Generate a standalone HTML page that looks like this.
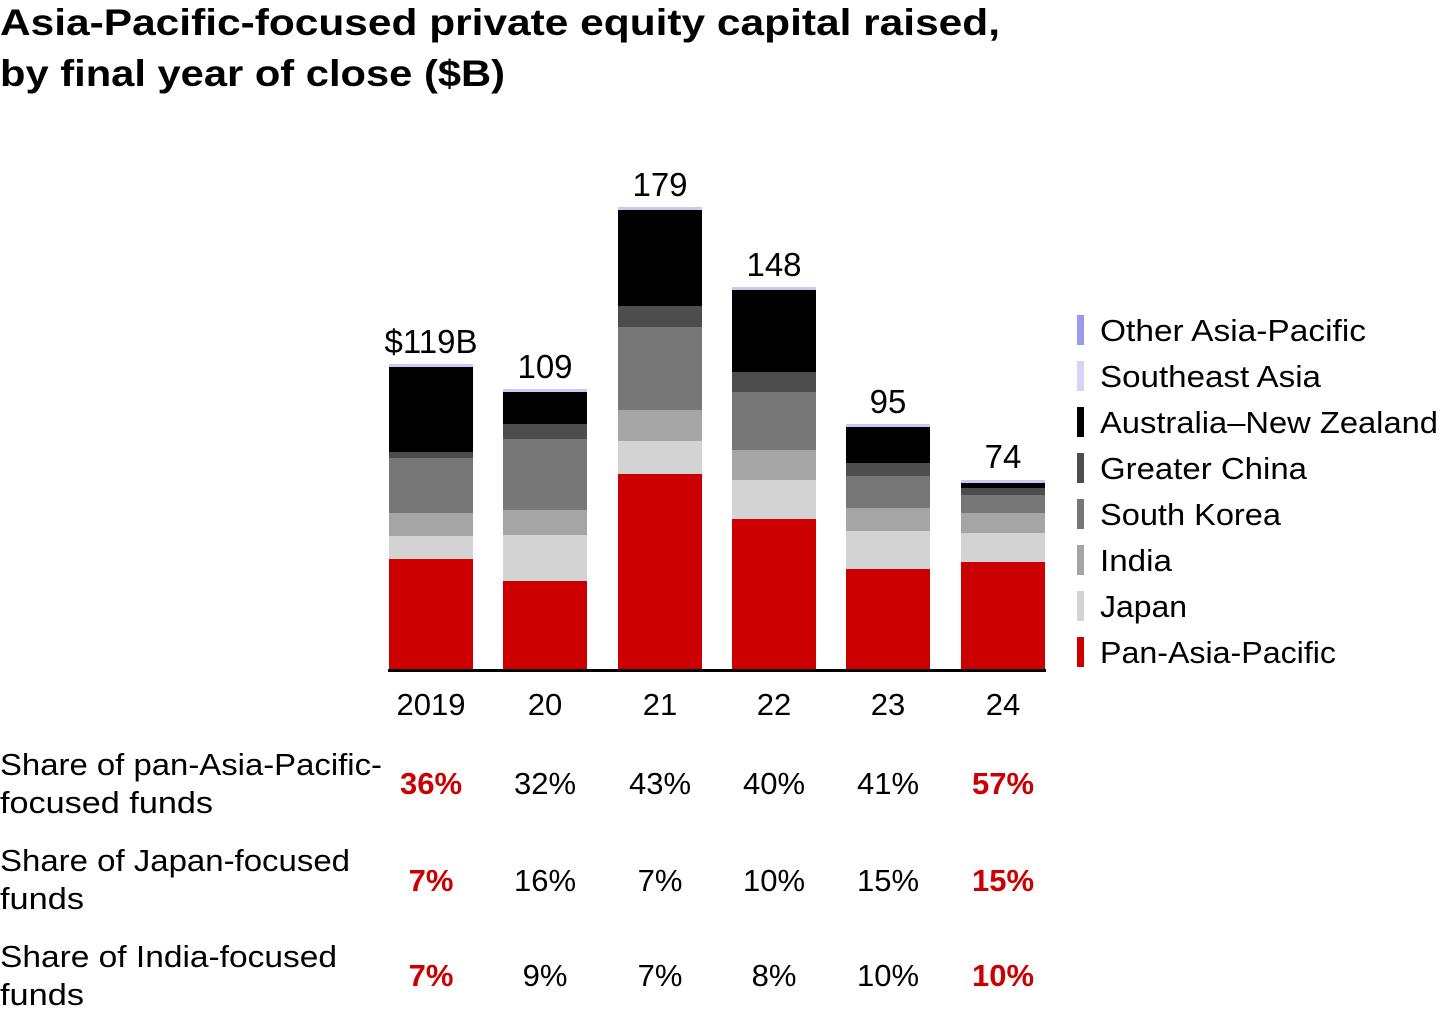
<!DOCTYPE html>
<html><head><meta charset="utf-8"><style>
body{margin:0;background:#fff;width:1440px;height:1013px;overflow:hidden;font-family:"Liberation Sans",sans-serif;}
</style></head><body>
<svg width="1440" height="1013" xmlns="http://www.w3.org/2000/svg" font-family="Liberation Sans, sans-serif">
<text x="0" y="35" font-size="37" font-weight="bold" fill="#000" textLength="1000" lengthAdjust="spacingAndGlyphs">Asia-Pacific-focused private equity capital raised,</text>
<text x="0" y="86" font-size="37" font-weight="bold" fill="#000" textLength="505" lengthAdjust="spacingAndGlyphs">by final year of close ($B)</text>
<g>
<rect x="389" y="364" width="84" height="3" fill="#c9c9f5"/>
<rect x="389" y="367" width="84" height="85" fill="#000"/>
<rect x="389" y="452" width="84" height="6" fill="#4d4d4d"/>
<rect x="389" y="458" width="84" height="55" fill="#777"/>
<rect x="389" y="513" width="84" height="23" fill="#a5a5a5"/>
<rect x="389" y="536" width="84" height="23" fill="#d3d3d3"/>
<rect x="389" y="559" width="84" height="111" fill="#cc0000"/>
<rect x="503" y="389" width="84" height="3" fill="#c9c9f5"/>
<rect x="503" y="392" width="84" height="32" fill="#000"/>
<rect x="503" y="424" width="84" height="15" fill="#4d4d4d"/>
<rect x="503" y="439" width="84" height="71" fill="#777"/>
<rect x="503" y="510" width="84" height="25" fill="#a5a5a5"/>
<rect x="503" y="535" width="84" height="46" fill="#d3d3d3"/>
<rect x="503" y="581" width="84" height="89" fill="#cc0000"/>
<rect x="618" y="207" width="84" height="3" fill="#c9c9f5"/>
<rect x="618" y="210" width="84" height="96" fill="#000"/>
<rect x="618" y="306" width="84" height="21" fill="#4d4d4d"/>
<rect x="618" y="327" width="84" height="83" fill="#777"/>
<rect x="618" y="410" width="84" height="31" fill="#a5a5a5"/>
<rect x="618" y="441" width="84" height="33" fill="#d3d3d3"/>
<rect x="618" y="474" width="84" height="196" fill="#cc0000"/>
<rect x="732" y="287" width="84" height="3" fill="#c9c9f5"/>
<rect x="732" y="290" width="84" height="82" fill="#000"/>
<rect x="732" y="372" width="84" height="20" fill="#4d4d4d"/>
<rect x="732" y="392" width="84" height="58" fill="#777"/>
<rect x="732" y="450" width="84" height="30" fill="#a5a5a5"/>
<rect x="732" y="480" width="84" height="39" fill="#d3d3d3"/>
<rect x="732" y="519" width="84" height="151" fill="#cc0000"/>
<rect x="846" y="424" width="84" height="3" fill="#c9c9f5"/>
<rect x="846" y="427" width="84" height="36" fill="#000"/>
<rect x="846" y="463" width="84" height="13" fill="#4d4d4d"/>
<rect x="846" y="476" width="84" height="32" fill="#777"/>
<rect x="846" y="508" width="84" height="23" fill="#a5a5a5"/>
<rect x="846" y="531" width="84" height="38" fill="#d3d3d3"/>
<rect x="846" y="569" width="84" height="101" fill="#cc0000"/>
<rect x="961" y="480" width="84" height="3" fill="#c9c9f5"/>
<rect x="961" y="483" width="84" height="5" fill="#000"/>
<rect x="961" y="488" width="84" height="7" fill="#4d4d4d"/>
<rect x="961" y="495" width="84" height="18" fill="#777"/>
<rect x="961" y="513" width="84" height="20" fill="#a5a5a5"/>
<rect x="961" y="533" width="84" height="29" fill="#d3d3d3"/>
<rect x="961" y="562" width="84" height="108" fill="#cc0000"/>
<rect x="388" y="669" width="658" height="3" fill="#000"/>
</g>
<g font-size="33" fill="#000" text-anchor="middle">
<text x="431" y="353">$119B</text>
<text x="545" y="378">109</text>
<text x="660" y="196">179</text>
<text x="774" y="276">148</text>
<text x="888" y="413">95</text>
<text x="1003" y="468">74</text>
<text x="431" y="715" font-size="31">2019</text>
<text x="545" y="715" font-size="31">20</text>
<text x="660" y="715" font-size="31">21</text>
<text x="774" y="715" font-size="31">22</text>
<text x="888" y="715" font-size="31">23</text>
<text x="1003" y="715" font-size="31">24</text>
</g>
<g font-size="31" fill="#000">
<rect x="1077" y="315" width="7" height="30" fill="#9999ee"/><text x="1100" y="341" textLength="266" lengthAdjust="spacingAndGlyphs">Other Asia-Pacific</text>
<rect x="1077" y="361" width="7" height="30" fill="#d5d5fa"/><text x="1100" y="387" textLength="221" lengthAdjust="spacingAndGlyphs">Southeast Asia</text>
<rect x="1077" y="407" width="7" height="30" fill="#000"/><text x="1100" y="433" textLength="338" lengthAdjust="spacingAndGlyphs">Australia–New Zealand</text>
<rect x="1077" y="453" width="7" height="30" fill="#4d4d4d"/><text x="1100" y="479" textLength="207" lengthAdjust="spacingAndGlyphs">Greater China</text>
<rect x="1077" y="499" width="7" height="30" fill="#777"/><text x="1100" y="525" textLength="181" lengthAdjust="spacingAndGlyphs">South Korea</text>
<rect x="1077" y="545" width="7" height="30" fill="#a5a5a5"/><text x="1100" y="571" textLength="72" lengthAdjust="spacingAndGlyphs">India</text>
<rect x="1077" y="591" width="7" height="30" fill="#d3d3d3"/><text x="1100" y="617" textLength="87" lengthAdjust="spacingAndGlyphs">Japan</text>
<rect x="1077" y="637" width="7" height="30" fill="#cc0000"/><text x="1100" y="663" textLength="236" lengthAdjust="spacingAndGlyphs">Pan-Asia-Pacific</text>
</g>
<g font-size="31" fill="#000">
<text x="0" y="775" textLength="382" lengthAdjust="spacingAndGlyphs">Share of pan-Asia-Pacific-</text>
<text x="0" y="813" textLength="213" lengthAdjust="spacingAndGlyphs">focused funds</text>
<text x="0" y="871" textLength="350" lengthAdjust="spacingAndGlyphs">Share of Japan-focused</text>
<text x="0" y="909" textLength="84" lengthAdjust="spacingAndGlyphs">funds</text>
<text x="0" y="967" textLength="337" lengthAdjust="spacingAndGlyphs">Share of India-focused</text>
<text x="0" y="1005" textLength="84" lengthAdjust="spacingAndGlyphs">funds</text>
</g>
<g font-size="31" text-anchor="middle">
<text x="431" y="794" fill="#cc0000" font-weight="bold">36%</text>
<text x="545" y="794">32%</text><text x="660" y="794">43%</text><text x="774" y="794">40%</text><text x="888" y="794">41%</text>
<text x="1003" y="794" fill="#cc0000" font-weight="bold">57%</text>
<text x="431" y="891" fill="#cc0000" font-weight="bold">7%</text>
<text x="545" y="891">16%</text><text x="660" y="891">7%</text><text x="774" y="891">10%</text><text x="888" y="891">15%</text>
<text x="1003" y="891" fill="#cc0000" font-weight="bold">15%</text>
<text x="431" y="986" fill="#cc0000" font-weight="bold">7%</text>
<text x="545" y="986">9%</text><text x="660" y="986">7%</text><text x="774" y="986">8%</text><text x="888" y="986">10%</text>
<text x="1003" y="986" fill="#cc0000" font-weight="bold">10%</text>
</g>
</svg>
</body></html>
